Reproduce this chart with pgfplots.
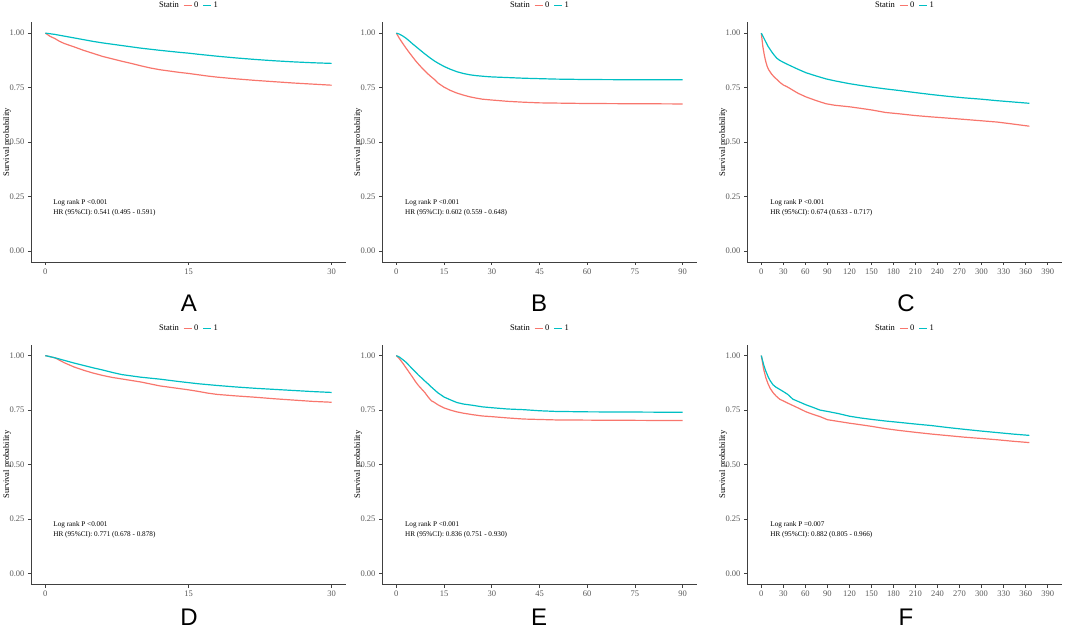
\documentclass[border=0pt]{standalone}
\usepackage{pgfplots}
\pgfplotsset{compat=1.18}
\usepackage{fontspec}
\setmainfont{Liberation Serif}
\newfontfamily\lsans{Liberation Sans}
\definecolor{kmred}{HTML}{F8766D}
\definecolor{kmcyan}{HTML}{00BFC4}
\tikzset{ann/.style={anchor=west, align=left, font=\fontsize{7.2}{9.7}\selectfont},
  let/.style={inner sep=0pt, font=\lsans\fontsize{24}{24}\selectfont}}
\pgfplotsset{
  km/.style={
    width=315pt, height=239.8pt, scale only axis,
    ymin=-0.05, ymax=1.05,
    axis x line*=bottom, axis y line*=left,
    axis line style={black!75, line width=0.9pt, -},
    ytick={0,0.25,0.5,0.75,1}, yticklabels={0.00,0.25,0.50,0.75,1.00},
    tick align=outside, major tick length=3pt,
    tick style={black!75, line width=0.7pt},
    /pgf/number format/assume math mode=true,
    ticklabel style={font=\fontsize{8.5}{9}\selectfont, text=black!65},
    ylabel={Survival probability},
    ylabel style={at={(axis description cs:-0.076,0.5)}, anchor=center, font=\fontsize{8.5}{9}\selectfont},
    legend style={at={(axis description cs:0.5,1.069)}, anchor=center, draw=none, fill=none,
      legend columns=-1, font=\fontsize{8.5}{9}\selectfont,
      /tikz/every even column/.append style={column sep=2pt}},
    legend image code/.code={\draw[#1, line width=1.3pt] (0pt,0pt) -- (8pt,0pt);},
    every axis plot/.append style={line width=1.2pt},
  },
}
\begin{document}
\begin{tikzpicture}
\path[use as bounding box] (0,0) rectangle (1065pt,630pt);
% ---------------- A ----------------
\begin{axis}[km, at={(31pt,368pt)}, anchor=south west, xmin=-1.5, xmax=31.5, xtick={0,15,30}]
\addlegendimage{empty legend}\addlegendentry{Statin}
\addplot[kmred] coordinates {(0,1.0)(0.5,0.985)(1,0.975)(1.5,0.962)(2,0.952)(3,0.937)(4,0.921)(5,0.907)(6,0.893)(7,0.882)(8,0.871)(9,0.861)(10,0.85)(11,0.84)(12,0.832)(13,0.826)(14,0.82)(15,0.815)(16,0.809)(17,0.803)(18,0.798)(19,0.794)(20,0.79)(22,0.783)(24,0.777)(26,0.771)(28,0.766)(30,0.761)};
\addlegendentry{0}
\addplot[kmcyan] coordinates {(0,1.0)(1,0.994)(2,0.986)(3,0.978)(4,0.97)(5,0.962)(6,0.955)(7,0.949)(8,0.943)(9,0.937)(10,0.931)(12,0.921)(14,0.912)(15,0.908)(16,0.903)(18,0.894)(20,0.886)(22,0.879)(24,0.873)(26,0.868)(28,0.864)(30,0.861)};
\addlegendentry{1}
\node[ann] at (axis description cs:0.06,0.227) {Log rank P <0.001\\HR (95\%CI): 0.541 (0.495 - 0.591)};
\end{axis}
% ---------------- B ----------------
\begin{axis}[km, at={(382pt,368pt)}, anchor=south west, xmin=-4.5, xmax=94.5, xtick={0,15,...,90}]
\addlegendimage{empty legend}\addlegendentry{Statin}
\addplot[kmred] coordinates {(0,1.0)(1,0.975)(2,0.953)(3,0.932)(4,0.912)(5,0.893)(6,0.874)(7,0.857)(8,0.841)(9,0.826)(10,0.812)(11,0.799)(12,0.787)(13,0.772)(15,0.752)(17,0.737)(19,0.725)(21,0.716)(23,0.708)(25,0.702)(27,0.697)(30,0.693)(35,0.687)(40,0.683)(45,0.680)(50,0.679)(60,0.677)(75,0.676)(90,0.675)};
\addlegendentry{0}
\addplot[kmcyan] coordinates {(0,1.0)(1,0.995)(2,0.987)(3,0.977)(4,0.965)(5,0.952)(6,0.94)(7,0.928)(8,0.916)(9,0.904)(10,0.893)(11,0.882)(12,0.872)(13,0.863)(14,0.855)(15,0.847)(17,0.834)(19,0.823)(21,0.815)(23,0.809)(25,0.805)(28,0.801)(30,0.799)(35,0.796)(40,0.793)(45,0.791)(50,0.789)(60,0.787)(75,0.786)(90,0.786)};
\addlegendentry{1}
\node[ann] at (axis description cs:0.062,0.227) {Log rank P <0.001\\HR (95\%CI): 0.602 (0.559 - 0.648)};
\end{axis}
% ---------------- C ----------------
\begin{axis}[km, at={(747pt,368pt)}, anchor=south west, xmin=-19.5, xmax=409.5, xtick={0,30,...,390}]
\addlegendimage{empty legend}\addlegendentry{Statin}
\addplot[kmred] coordinates {(0,1)(2,0.94)(4,0.9)(6,0.87)(8,0.847)(10,0.832)(14,0.812)(18,0.797)(22,0.785)(26,0.772)(30,0.762)(36,0.752)(43,0.738)(50,0.724)(61,0.707)(75,0.69)(88,0.676)(100,0.669)(120,0.662)(135,0.655)(151,0.647)(169,0.636)(190,0.629)(209,0.622)(230,0.616)(254,0.61)(277,0.604)(299,0.598)(321,0.592)(340,0.584)(365,0.573)};
\addlegendentry{0}
\addplot[kmcyan] coordinates {(0,1)(3,0.98)(6,0.96)(9,0.94)(12,0.925)(15,0.91)(18,0.897)(21,0.885)(25,0.875)(30,0.866)(36,0.856)(43,0.845)(50,0.834)(61,0.818)(75,0.803)(88,0.79)(100,0.781)(120,0.768)(135,0.76)(151,0.752)(169,0.744)(187,0.737)(210,0.727)(232,0.718)(254,0.71)(276,0.703)(299,0.697)(321,0.69)(343,0.684)(365,0.678)};
\addlegendentry{1}
\node[ann] at (axis description cs:0.063,0.227) {Log rank P <0.001\\HR (95\%CI): 0.674 (0.633 - 0.717)};
\end{axis}
% ---------------- D ----------------
\begin{axis}[km, at={(31pt,45.5pt)}, anchor=south west, xmin=-1.5, xmax=31.5, xtick={0,15,30}]
\addlegendimage{empty legend}\addlegendentry{Statin}
\addplot[kmred] coordinates {(0,1)(1,0.99)(2,0.967)(3,0.948)(4,0.933)(5,0.92)(6,0.909)(7,0.9)(8,0.893)(9,0.886)(10,0.879)(11,0.87)(12,0.861)(13,0.855)(14,0.849)(15,0.843)(16,0.836)(17,0.828)(18,0.822)(20,0.815)(22,0.809)(24,0.802)(26,0.796)(28,0.79)(30,0.786)};
\addlegendentry{0}
\addplot[kmcyan] coordinates {(0,1)(1,0.99)(2,0.978)(3,0.966)(4,0.955)(5,0.944)(6,0.934)(7,0.923)(8,0.913)(9,0.907)(10,0.901)(12,0.892)(14,0.881)(15,0.876)(16,0.871)(18,0.863)(20,0.856)(22,0.85)(24,0.845)(26,0.84)(28,0.835)(30,0.831)};
\addlegendentry{1}
\node[ann] at (axis description cs:0.06,0.227) {Log rank P <0.001\\HR (95\%CI): 0.771 (0.678 - 0.878)};
\end{axis}
% ---------------- E ----------------
\begin{axis}[km, at={(382pt,45.5pt)}, anchor=south west, xmin=-4.5, xmax=94.5, xtick={0,15,...,90}]
\addlegendimage{empty legend}\addlegendentry{Statin}
\addplot[kmred] coordinates {(0,1)(1,0.985)(2,0.966)(3,0.945)(4,0.924)(5,0.903)(6,0.881)(7,0.862)(8,0.846)(9,0.83)(10,0.81)(11,0.793)(12,0.785)(13,0.775)(15,0.76)(17,0.75)(19,0.742)(21,0.736)(24,0.729)(27,0.723)(30,0.72)(35,0.714)(40,0.709)(45,0.707)(50,0.705)(60,0.704)(75,0.703)(90,0.702)};
\addlegendentry{0}
\addplot[kmcyan] coordinates {(0,1)(1,0.993)(2,0.982)(3,0.97)(4,0.955)(5,0.94)(6,0.925)(7,0.91)(8,0.897)(9,0.883)(10,0.87)(11,0.856)(12,0.843)(13,0.83)(14,0.82)(15,0.81)(17,0.797)(19,0.785)(21,0.778)(24,0.772)(27,0.765)(30,0.761)(35,0.755)(40,0.752)(45,0.747)(50,0.744)(60,0.742)(75,0.741)(90,0.74)};
\addlegendentry{1}
\node[ann] at (axis description cs:0.062,0.227) {Log rank P <0.001\\HR (95\%CI): 0.836 (0.751 - 0.930)};
\end{axis}
% ---------------- F ----------------
\begin{axis}[km, at={(747pt,45.5pt)}, anchor=south west, xmin=-19.5, xmax=409.5, xtick={0,30,...,390}]
\addlegendimage{empty legend}\addlegendentry{Statin}
\addplot[kmred] coordinates {(0,1)(3,0.94)(6,0.9)(9,0.872)(12,0.85)(16,0.83)(20,0.815)(25,0.8)(30,0.792)(36,0.782)(43,0.771)(50,0.76)(61,0.742)(70,0.731)(80,0.72)(90,0.706)(105,0.698)(120,0.69)(135,0.683)(151,0.675)(169,0.665)(187,0.657)(210,0.648)(232,0.64)(254,0.633)(276,0.626)(299,0.62)(321,0.614)(343,0.607)(365,0.601)};
\addlegendentry{0}
\addplot[kmcyan] coordinates {(0,1)(3,0.96)(6,0.93)(9,0.905)(12,0.885)(16,0.866)(20,0.855)(25,0.845)(30,0.835)(36,0.822)(43,0.8)(50,0.79)(61,0.774)(70,0.763)(80,0.75)(90,0.744)(105,0.734)(120,0.722)(135,0.714)(151,0.707)(169,0.7)(187,0.694)(210,0.686)(232,0.679)(254,0.67)(276,0.662)(299,0.654)(321,0.647)(343,0.64)(365,0.634)};
\addlegendentry{1}
\node[ann] at (axis description cs:0.063,0.227) {Log rank P =0.007\\HR (95\%CI): 0.882 (0.805 - 0.966)};
\end{axis}
% panel letters
\node[let] at (189pt,327pt) {A};
\node[let] at (539pt,327pt) {B};
\node[let] at (906pt,327pt) {C};
\node[let] at (189pt,12.5pt) {D};
\node[let] at (539pt,12.5pt) {E};
\node[let] at (906pt,12.5pt) {F};
\end{tikzpicture}
\end{document}
